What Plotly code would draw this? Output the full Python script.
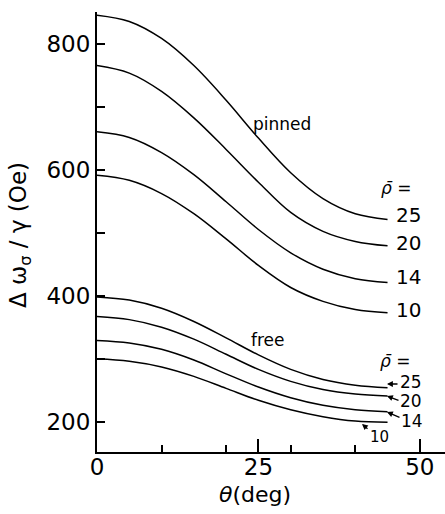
import plotly.graph_objects as go

theta = [0, 5, 10, 15, 20, 25, 30, 35, 40, 45]

pinned_25 = [845, 835, 808, 765, 710, 650, 595, 554, 530, 521]
pinned_20 = [765, 753, 724, 682, 632, 580, 532, 502, 486, 479]
pinned_14 = [660, 651, 627, 592, 549, 505, 468, 442, 427, 421]
pinned_10 = [591, 583, 562, 530, 490, 448, 413, 391, 378, 373]

free_25 = [398, 393, 380, 359, 333, 306, 283, 267, 258, 254]
free_20 = [367, 362, 350, 331, 307, 283, 264, 251, 244, 241]
free_14 = [329, 325, 315, 298, 276, 255, 238, 226, 219, 216]
free_10 = [300, 296, 287, 272, 253, 234, 219, 208, 201, 199]

x_major = [0, 25, 50]
x_minor = [10, 20, 30, 40]
y_major = [200, 400, 600, 800]
y_minor = [300, 500, 700]

FONT = "DejaVu Sans"

# geometry of plot area (pixels)
L, T, B = 97, 12, 62
W, H = 445, 514
X0, X1 = 0, 53.9
Y0, Y1 = 152, 850


def px(xp, yp):
    """pixel -> data coordinates (for placing text labels)"""
    pw = W - L
    ph = H - T - B
    x = X0 + (xp - L) / pw * (X1 - X0)
    y = Y0 + ((H - B) - yp) / ph * (Y1 - Y0)
    return x, y


fig = go.Figure()
for ys in [pinned_25, pinned_20, pinned_14, pinned_10, free_25, free_20, free_14, free_10]:
    fig.add_trace(go.Scatter(x=theta, y=ys, mode="lines",
                             line=dict(color="black", width=1.5, shape="spline", smoothing=1.0),
                             showlegend=False, hoverinfo="skip"))

ann = []


def text(xp, yp, s, size=20, **kw):
    x, y = px(xp, yp)
    ann.append(dict(x=x, y=y, xref="x", yref="y", text=s, showarrow=False,
                    xanchor="center", yanchor="middle",
                    font=dict(family=FONT, size=size, color="black"), **kw))


def arrow(x_tail, y_tail, x_tip, y_tip):
    x, y = px(x_tip, y_tip)
    ann.append(dict(x=x, y=y, xref="x", yref="y", text="", showarrow=True,
                    ax=x_tail - x_tip, ay=y_tail - y_tip, axref="pixel", ayref="pixel",
                    arrowhead=2, arrowsize=0.9, arrowwidth=1.3, arrowcolor="black"))


text(282, 124, "pinned", size=17)
text(396, 188, "<i>ρ̄</i> =", size=17)
text(408, 215, "25")
text(408, 243, "20")
text(408, 277, "14")
text(408, 310, "10")

text(268, 340, "free", size=17)
text(395, 361, "<i>ρ̄</i> =", size=17)
text(411, 382, "25", size=17)
text(411, 401, "20", size=17)
text(412, 421, "14", size=17)
text(379, 437, "10", size=15)
arrow(399, 384, 387, 384)
arrow(400, 401, 387, 396)
arrow(401, 418, 387, 412)
arrow(369, 430, 362, 424)

# axis titles
ann.append(dict(x=(255 - L) / (W - L), y=(H - 494 - B) / (H - T - B), xref="paper", yref="paper",
                xanchor="center", yanchor="middle",
                text="<i>θ</i>(deg)", showarrow=False,
                font=dict(family=FONT, size=22, color="black")))
ann.append(dict(x=(20 - L) / (W - L), y=(H - 235 - B) / (H - T - B), xref="paper", yref="paper",
                xanchor="center", yanchor="middle",
                text="Δ ω<sub>σ</sub> / γ (Oe)", showarrow=False, textangle=-90,
                font=dict(family=FONT, size=23, color="black")))

fig.update_layout(
    width=W, height=H,
    margin=dict(l=L, r=0, t=T, b=B),
    paper_bgcolor="white", plot_bgcolor="white",
    annotations=ann,
    xaxis=dict(range=[X0, X1], showline=True, linecolor="black", linewidth=2,
               showgrid=False, zeroline=False, ticks="inside", ticklen=13, tickwidth=1.5,
               tickcolor="black", tickmode="array", tickvals=x_major,
               ticktext=[str(v) for v in x_major], ticklabelstandoff=-7,
               tickfont=dict(family=FONT, size=23, color="black"),
               minor=dict(tickmode="array", tickvals=x_minor, ticks="inside", ticklen=7,
                          tickwidth=1.5, tickcolor="black", showgrid=False)),
    yaxis=dict(range=[Y0, Y1], showline=True, linecolor="black", linewidth=2,
               showgrid=False, zeroline=False, ticks="inside", ticklen=8, tickwidth=1.5,
               tickcolor="black", tickmode="array", tickvals=y_major,
               ticktext=[str(v) for v in y_major],
               tickfont=dict(family=FONT, size=23, color="black"),
               minor=dict(tickmode="array", tickvals=y_minor, ticks="inside", ticklen=8,
                          tickwidth=1.5, tickcolor="black", showgrid=False)),
)

fig.write_html("out.html")
